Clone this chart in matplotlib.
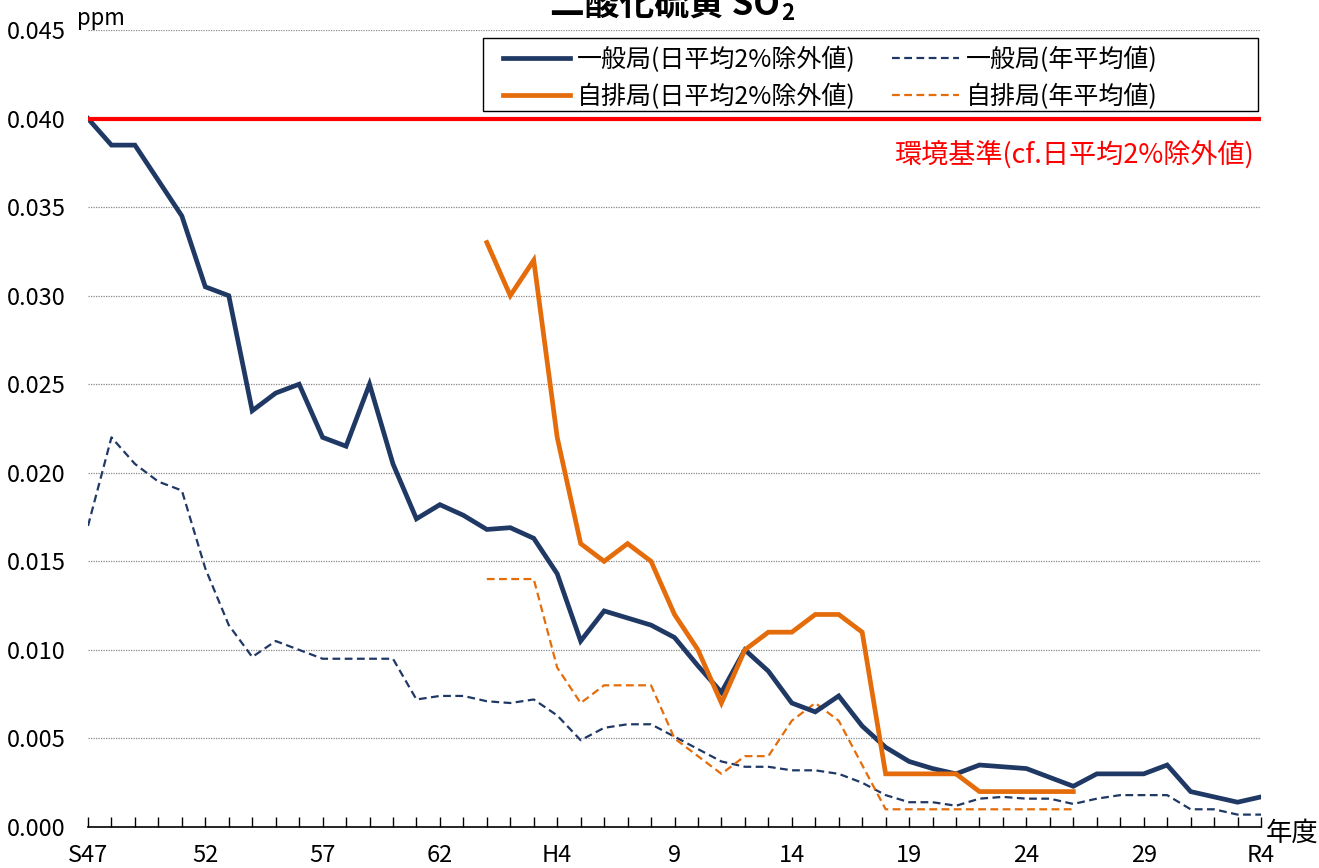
import matplotlib
matplotlib.use('Agg')
import matplotlib.pyplot as plt
from matplotlib.patches import Rectangle
import numpy as np

plt.rcParams['font.family'] = ['Noto Sans CJK JP', 'DejaVu Sans']

nan = np.nan

# 年度: S47 .. S63, H1 .. H30, R1 .. R4
years = ['S%d' % y for y in range(47, 64)] + ['H%d' % y for y in range(1, 31)] + ['R%d' % y for y in range(1, 5)]
tick_labels = ['S47', '52', '57', '62', 'H4', '9', '14', '19', '24', '29', 'R4']

# 一般局 日平均値の2%除外値 (ppm)
ippan_2pct = [0.0400, 0.0385, 0.0385, 0.0365, 0.0345, 0.0305, 0.0300, 0.0235, 0.0245, 0.0250,
              0.0220, 0.0215, 0.0250, 0.0205, 0.0174, 0.0182, 0.0176,
              0.0168, 0.0169, 0.0163, 0.0143, 0.0105, 0.0122, 0.0118, 0.0114, 0.0107, 0.0091,
              0.0076, 0.0100, 0.0088, 0.0070, 0.0065, 0.0074, 0.0057, 0.0045, 0.0037, 0.0033,
              0.0030, 0.0035, 0.0034, 0.0033, 0.0028, 0.0023, 0.0030, 0.0030, 0.0030, 0.0035,
              0.0020, 0.0017, 0.0014, 0.0017]

# 一般局 年平均値
ippan_mean = [0.0170, 0.0220, 0.0205, 0.0195, 0.0190, 0.0146, 0.0114, 0.0096, 0.0105, 0.0100,
              0.0095, 0.0095, 0.0095, 0.0095, 0.0072, 0.0074, 0.0074,
              0.0071, 0.0070, 0.0072, 0.0063, 0.0049, 0.0056, 0.0058, 0.0058, 0.0051, 0.0044,
              0.0037, 0.0034, 0.0034, 0.0032, 0.0032, 0.0030, 0.0025, 0.0018, 0.0014, 0.0014,
              0.0012, 0.0016, 0.0017, 0.0016, 0.0016, 0.0013, 0.0016, 0.0018, 0.0018, 0.0018,
              0.0010, 0.0010, 0.0007, 0.0007]

# 自排局 日平均値の2%除外値 (H1 .. H26)
jihai_2pct = [nan] * 17 + [0.033, 0.030, 0.032, 0.022, 0.016, 0.015, 0.016, 0.015, 0.012, 0.010,
                           0.007, 0.010, 0.011, 0.011, 0.012, 0.012, 0.011, 0.003, 0.003, 0.003,
                           0.003, 0.002, 0.002, 0.002, 0.002, 0.002] + [nan] * 8

# 自排局 年平均値 (H1 .. H26)
jihai_mean = [nan] * 17 + [0.014, 0.014, 0.014, 0.009, 0.007, 0.008, 0.008, 0.008, 0.005, 0.004,
                           0.003, 0.004, 0.004, 0.006, 0.007, 0.006, 0.0035, 0.001, 0.001, 0.001,
                           0.001, 0.001, 0.001, 0.001, 0.001, 0.001] + [nan] * 8

standard = 0.040

navy = '#1f3864'
orange = '#e46c0a'

fig = plt.figure(figsize=(13.19, 8.68), dpi=100)
ax = fig.add_axes([88 / 1319, 1 - 827 / 868, (1261 - 88) / 1319, (827 - 30) / 868])

x = np.arange(len(years))
ax.plot(x, ippan_2pct, color=navy, lw=3.4, label='一般局(日平均2%除外値)', solid_joinstyle='miter', zorder=4)
ax.plot(x, jihai_2pct, color=orange, lw=3.4, label='自排局(日平均2%除外値)', solid_joinstyle='miter', zorder=5)
ax.plot(x, ippan_mean, color=navy, lw=1.6, ls=(0, (3.5, 2)), label='一般局(年平均値)', zorder=3)
ax.plot(x, jihai_mean, color=orange, lw=1.6, ls=(0, (3.5, 2)), label='自排局(年平均値)', zorder=3)
ax.axhline(standard, color='#ff0000', lw=3, zorder=6)

ax.text(49.7, 0.0379, '環境基準(cf.日平均2%除外値)', color='#ff0000', fontsize=19.5,
        ha='right', va='center')

ax.set_xlim(0, len(years) - 1)
ax.set_ylim(0, 0.045)
ax.set_yticks(np.arange(0, 0.0451, 0.005))
ax.set_yticklabels(['%.3f' % v for v in np.arange(0, 0.0451, 0.005)])
ax.set_xticks(x)
ax.set_xticklabels([years[i] if i % 5 else tick_labels[i // 5] for i in x])
for i, lab in enumerate(ax.get_xticklabels()):
    lab.set_visible(i % 5 == 0)

ax.tick_params(axis='y', length=0, pad=16, labelsize=17)
ax.tick_params(axis='x', direction='in', length=7, width=1, pad=12, labelsize=17)

for side in ['left', 'right', 'top']:
    ax.spines[side].set_visible(False)
ax.spines['bottom'].set_linewidth(1.2)

ax.yaxis.grid(True, color='#888888', ls=(0, (1, 1)), lw=0.9)
ax.set_axisbelow(True)

# legend box drawn separately so it can be wider than its entries
ax.add_patch(Rectangle((0.3367, 0.8984), 0.9974 - 0.3367, 0.99 - 0.8984, transform=ax.transAxes,
                       facecolor='white', edgecolor='black', lw=1.0, clip_on=False, zorder=7))
leg = ax.legend(ncol=2, loc='upper left', bbox_to_anchor=((503 - 88) / 1173, 0.979), fontsize=18,
                frameon=False, handlelength=2.68, handletextpad=0.28, columnspacing=1.45,
                borderpad=0, borderaxespad=0, labelspacing=0.42)
leg.set_zorder(8)

fig.text(0.5914, 1 - 15 / 868, '二酸化硫黄 SO', fontsize=25, fontweight='bold', ha='right', va='baseline')
fig.text(0.5925, 1 - 20 / 868, '2', fontsize=16, fontweight='bold', ha='left', va='baseline')
fig.text(77 / 1319, 1 - 18 / 868, 'ppm', fontsize=16, ha='left', va='center')
fig.text(1266 / 1319, 1 - 833 / 868, '年度', fontsize=19, ha='left', va='center')

plt.savefig('out.png', dpi=100)
